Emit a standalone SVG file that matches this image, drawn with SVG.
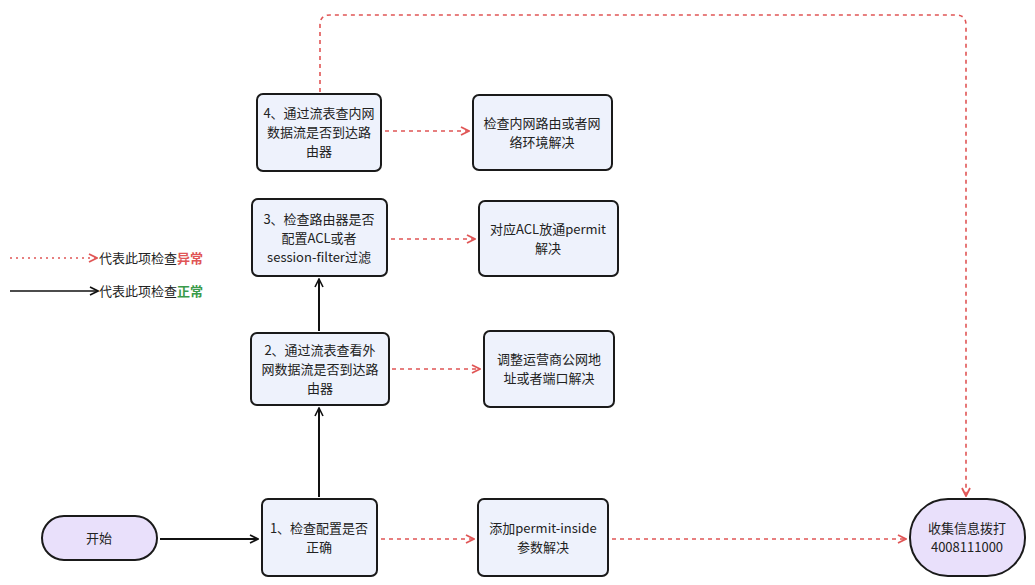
<svg xmlns="http://www.w3.org/2000/svg" width="1035" height="585" viewBox="0 0 1035 585">
<defs>
<style>
.n{fill:#eef2fc;stroke:#1a1a1a;stroke-width:2}
.t{font-family:"Noto Sans CJK SC","Noto Sans",sans-serif;font-size:13px;fill:#222;text-anchor:middle}
.lg{font-family:"Noto Sans CJK SC","Noto Sans",sans-serif;font-size:13px;fill:#222}
.s{stroke:#111;stroke-width:2;fill:none}
.d{stroke:#e05555;stroke-width:1.6;fill:none;stroke-dasharray:4 4}
</style>
<marker id="ab" viewBox="0 0 10 10" refX="9" refY="5" markerWidth="10" markerHeight="10" markerUnits="userSpaceOnUse" orient="auto"><path d="M1 1L9 5L1 9" fill="none" stroke="#111" stroke-width="1.6"/></marker>
<marker id="ar" viewBox="0 0 10 10" refX="9" refY="5" markerWidth="10" markerHeight="10" markerUnits="userSpaceOnUse" orient="auto"><path d="M1 1L9 5L1 9" fill="none" stroke="#e05555" stroke-width="1.8"/></marker>
</defs>
<rect width="1035" height="585" fill="#fff"/>
<g id="legend">
<line x1="10" y1="258" x2="97" y2="258" stroke="#e05555" stroke-width="1.6" stroke-dasharray="2 4" marker-end="url(#ar)"/>
<text class="lg" x="99" y="263">代表此项检查<tspan fill="#e05555" font-weight="bold">异常</tspan></text>
<line x1="10" y1="291" x2="98" y2="291" stroke="#111" stroke-width="1.6" marker-end="url(#ab)"/>
<text class="lg" x="99" y="296">代表此项检查<tspan fill="#3a9a4a" font-weight="bold">正常</tspan></text>
</g>
<g id="connectors">
<line class="s" x1="160" y1="539" x2="258" y2="539" marker-end="url(#ab)"/>
<line class="s" x1="319" y1="497" x2="319" y2="408" marker-end="url(#ab)"/>
<line class="s" x1="319" y1="331" x2="319" y2="279" marker-end="url(#ab)"/>
<line class="d" x1="381" y1="539" x2="474" y2="539" marker-end="url(#ar)"/>
<line class="d" x1="612" y1="539" x2="906" y2="539" marker-end="url(#ar)"/>
<line class="d" x1="392" y1="369" x2="480" y2="369" marker-end="url(#ar)"/>
<line class="d" x1="391" y1="239" x2="475" y2="239" marker-end="url(#ar)"/>
<line class="d" x1="385" y1="131" x2="469" y2="131" marker-end="url(#ar)"/>
<path class="d" d="M320 92V25Q320 15 330 15H956Q966 15 966 25V496" marker-end="url(#ar)"/>
</g>
<g id="start"><rect x="42" y="516" width="115" height="44" rx="22" fill="#e9e0fb" stroke="#1a1a1a" stroke-width="2"/><text class="t" x="99" y="543">开始</text></g>
<g id="n1"><rect class="n" x="262" y="499" width="115" height="77" rx="6"/><text class="t" x="319" y="533">1、检查配置是否</text><text class="t" x="319" y="552">正确</text></g>
<g id="n2"><rect class="n" x="251" y="333" width="138" height="72" rx="6"/><text class="t" x="320" y="355">2、通过流表查看外</text><text class="t" x="320" y="374">网数据流是否到达路</text><text class="t" x="320" y="393">由器</text></g>
<g id="n3"><rect class="n" x="252" y="199" width="135" height="77" rx="6"/><text class="t" x="319" y="224">3、检查路由器是否</text><text class="t" x="319" y="243">配置ACL或者</text><text class="t" x="319" y="262">session-filter过滤</text></g>
<g id="n4"><rect class="n" x="257" y="94" width="124" height="77" rx="6"/><text class="t" x="319" y="118">4、通过流表查内网</text><text class="t" x="319" y="137">数据流是否到达路</text><text class="t" x="319" y="156">由器</text></g>
<g id="r4"><rect class="n" x="473" y="95" width="139" height="75" rx="6"/><text class="t" x="542" y="128">检查内网路由或者网</text><text class="t" x="542" y="147">络环境解决</text></g>
<g id="r3"><rect class="n" x="479" y="201" width="139" height="75" rx="6"/><text class="t" x="548" y="234">对应ACL放通permit</text><text class="t" x="548" y="253">解决</text></g>
<g id="r2"><rect class="n" x="484" y="331" width="130" height="76" rx="6"/><text class="t" x="549" y="364">调整运营商公网地</text><text class="t" x="549" y="383">址或者端口解决</text></g>
<g id="r1"><rect class="n" x="478" y="499" width="130" height="77" rx="6"/><text class="t" x="543" y="533">添加permit-inside</text><text class="t" x="543" y="552">参数解决</text></g>
<g id="end"><rect x="910" y="499" width="115" height="77" rx="38" fill="#e9e0fb" stroke="#1a1a1a" stroke-width="2"/><text class="t" x="967" y="533">收集信息拨打</text><text class="t" x="967" y="552">4008111000</text></g>
</svg>
